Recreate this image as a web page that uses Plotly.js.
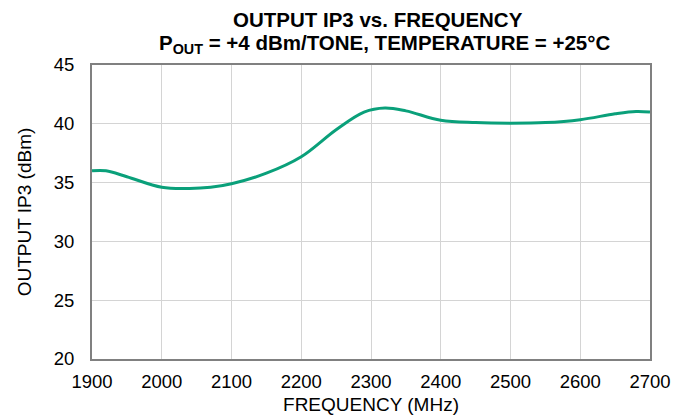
<!DOCTYPE html>
<html>
<head>
<meta charset="utf-8">
<script src="https://cdn.plot.ly/plotly-3.0.1.min.js"></script>
<style>html,body{margin:0;padding:0;background:#fff;}#chart{width:688px;height:417px;}</style>
</head>
<body>
<div id="chart"></div>
<script>
const freqMHz = [1900, 1920, 1950, 2000, 2040, 2070, 2100, 2150, 2200, 2250, 2290, 2320, 2350, 2400, 2450, 2500, 2550, 2600, 2650, 2680, 2700];
const oip3dBm = [36.0, 36.0, 35.5, 34.6, 34.5, 34.6, 34.9, 35.8, 37.2, 39.5, 41.0, 41.35, 41.1, 40.3, 40.1, 40.05, 40.1, 40.35, 40.85, 41.05, 41.0];
const xTicks = [1900, 2000, 2100, 2200, 2300, 2400, 2500, 2600, 2700];
const yTicks = [20, 25, 30, 35, 40, 45];
const titleLine1 = '<b>OUTPUT IP3 vs. FREQUENCY</b>';
const titleLine2 = '<b>P<sub>OUT</sub> = +4 dBm/TONE, TEMPERATURE = +25°C</b>';

const font = "Liberation Sans, Arial, sans-serif";
Plotly.newPlot('chart', [{
  x: freqMHz, y: oip3dBm, type: 'scatter', mode: 'lines',
  line: {color: '#0aa07a', width: 3, shape: 'spline', smoothing: 1},
  hoverinfo: 'skip'
}], {
  width: 688, height: 417,
  margin: {l: 92, r: 38, t: 65, b: 58},
  paper_bgcolor: '#fff', plot_bgcolor: '#fff',
  font: {family: font, color: '#000', size: 18.5},
  showlegend: false,
  annotations: [
    {text: titleLine1, xref: 'paper', yref: 'paper', x: 0.512, y: 1.156, xanchor: 'center', yanchor: 'middle', showarrow: false, font: {family: font, size: 20.5, color: '#000'}},
    {text: titleLine2, xref: 'paper', yref: 'paper', x: 0.525, y: 1.071, xanchor: 'center', yanchor: 'middle', showarrow: false, font: {family: font, size: 20.5, color: '#000'}}
  ],
  xaxis: {
    range: [1900, 2700], tickvals: xTicks, ticktext: xTicks.map(String),
    showgrid: true, gridcolor: '#d4d4d4', gridwidth: 1,
    showline: true, linecolor: '#808080', linewidth: 2, mirror: true,
    ticks: '', zeroline: false, tickfont: {size: 18.5}, ticklabelstandoff: 5,
    title: {text: 'FREQUENCY (MHz)', font: {size: 19}, standoff: 6}
  },
  yaxis: {
    range: [20, 45], tickvals: yTicks, ticktext: yTicks.map(String),
    showgrid: true, gridcolor: '#d4d4d4', gridwidth: 1,
    showline: true, linecolor: '#808080', linewidth: 2, mirror: true,
    ticks: '', zeroline: false, tickfont: {size: 18.5}, ticklabelstandoff: 12,
    title: {text: 'OUTPUT IP3 (dBm)', font: {size: 19}, standoff: 17}
  }
}, {staticPlot: true, displayModeBar: false});
</script>
</body>
</html>
